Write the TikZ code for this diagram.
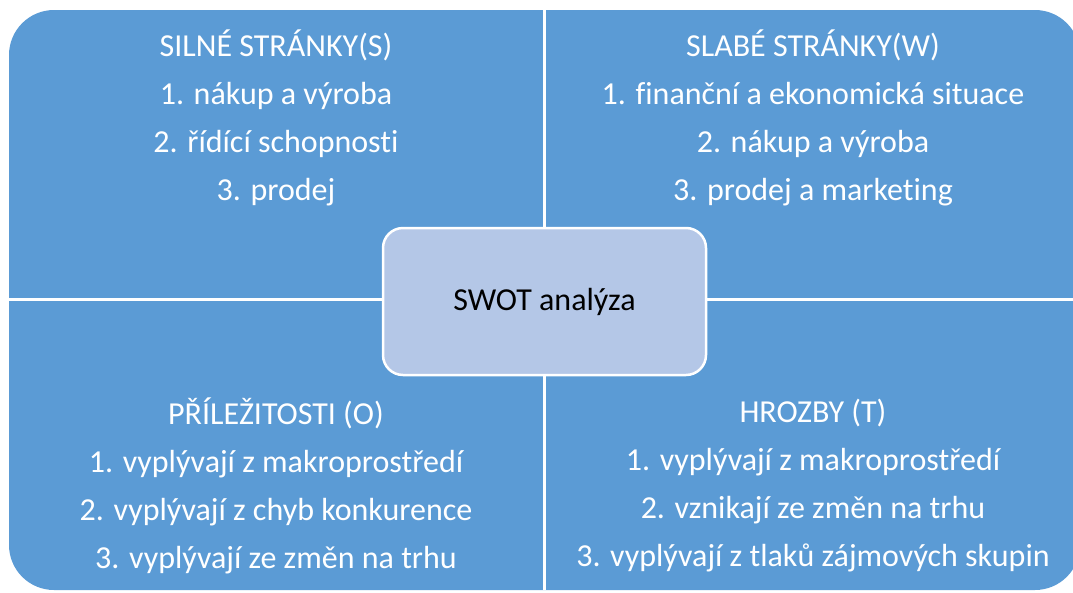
\documentclass[tikz,border=0pt]{standalone}
\usepackage{fontspec}
\setmainfont[Ligatures=NoCommon]{Carlito}
\usepackage{xcolor}
\definecolor{QuadBlue}{RGB}{91,155,213}
\definecolor{CoreBlue}{RGB}{180,199,231}
\usetikzlibrary{positioning}

\begin{document}
\begin{tikzpicture}[
  x=1pt, y=-1pt,
  quadtext/.style={
    text=white, align=center,
    font=\fontsize{32}{48}\selectfont
  },
  core/.style={
    draw=white, line width=2.5pt,
    fill=CoreBlue, rounded corners=20pt,
    minimum width=323pt, minimum height=147pt,
    font=\fontsize{32}{36}\selectfont
  },
  gap/.style={white, line width=3pt}
]
\useasboundingbox (0,0) rectangle (1073,592);

% matrix background
\fill[QuadBlue, rounded corners=45pt] (9,10) rectangle (1080,590);
\draw[gap] (544.5,10) -- (544.5,590);
\draw[gap] (9,299.5) -- (1080,299.5);

\node[quadtext] (str) at (276,118)
  {SILNÉ STRÁNKY(S)\\1. nákup a výroba\\2. řídící schopnosti\\3. prodej};
\node[quadtext] (wea) at (813,118)
  {SLABÉ STRÁNKY(W)\\1. finanční a ekonomická situace\\2. nákup a výroba\\3. prodej a marketing};
\node[quadtext] (opp) at (276,486)
  {PŘÍLEŽITOSTI (O)\\1. vyplývají z makroprostředí\\2. vyplývají z chyb konkurence\\3. vyplývají ze změn na trhu};
\node[quadtext] (thr) at (813,486)
  {HROZBY (T)\\1. vyplývají z makroprostředí\\2. vznikají ze změn na trhu\\3. vyplývají z tlaků zájmových skupin};

\node[core] (swot) at (544.5,301.5) {SWOT analýza};

\end{tikzpicture}
\end{document}
